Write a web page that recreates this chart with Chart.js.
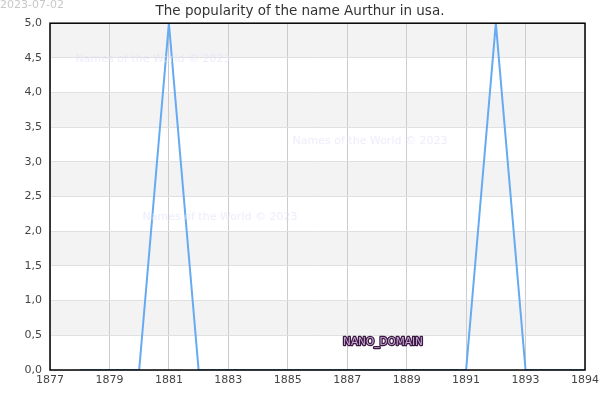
<!DOCTYPE html>
<html>
<head>
<meta charset="utf-8">
<script src="https://cdn.jsdelivr.net/npm/chart.js@4"></script>
<style>
  html, body { margin: 0; padding: 0; background: #fff; }
  #wrap { width: 600px; height: 400px; position: relative; }
</style>
</head>
<body>
<div id="wrap"><canvas id="nameChart"></canvas></div>
<script>
// Popularitas nama per tahun (nilai dibaca dari grafik referensi).
const YEARS  = [1878, 1879, 1880, 1881, 1882, 1883, 1884, 1885, 1886, 1887,
                1888, 1889, 1890, 1891, 1892, 1893, 1894, 1895];
const VALUES = [0, 0, 0, 5, 0, 0, 0, 0, 0, 0,
                0, 0, 0, 0, 5, 0, 0, 0];
const X_TICKS       = [1877, 1879, 1881, 1883, 1885, 1887, 1889, 1891, 1893, 1895];
const X_TICK_LABELS = ['1877', '1879', '1881', '1883', '1885', '1887', '1889', '1891', '1893', '1894'];
const TITLE_TEXT = 'The popularity of the name Aurthur in usa.';
const DATE_TEXT  = '2023-07-02';
const WATERMARK  = 'Names of the World \u00a9 2023';

Chart.defaults.font.family = "'DejaVu Sans', sans-serif";

// pita abu-abu selang-seling (di bawah grid) + kotak hitam + watermark
const decorPlugin = {
    id: 'decor',
    beforeDraw(chart) {
        const { ctx, chartArea: a, scales: { y } } = chart;
        ctx.save();
        ctx.fillStyle = '#f3f3f3';
        const ticks = y.ticks.map(t => t.value);
        // band abu-abu di 0,5-1,0 ; 1,5-2,0 ; ... ; 4,5-5,0
        for (let i = 2; i < ticks.length; i += 2) {
            const top = y.getPixelForValue(ticks[i]);
            const bot = y.getPixelForValue(ticks[i - 1]);
            ctx.fillRect(a.left, top, a.right - a.left, bot - top);
        }
        ctx.restore();
    },
    afterDatasetsDraw(chart) {
        const { ctx, chartArea: a } = chart;
        ctx.save();
        ctx.strokeStyle = '#000';
        ctx.lineWidth = 1.5;
        ctx.strokeRect(a.left, a.top, a.right - a.left, a.bottom - a.top);

        ctx.font = '11px "DejaVu Sans"';
        ctx.textAlign = 'center';
        ctx.textBaseline = 'middle';
        ctx.fillStyle = 'rgba(225, 225, 250, 0.6)';
        ctx.fillText(WATERMARK, 153, 59);
        ctx.fillText(WATERMARK, 370, 141);
        ctx.fillText(WATERMARK, 220, 217);

        ctx.font = '10.5px "DejaVu Sans"';
        ctx.lineWidth = 2.5;
        ctx.lineJoin = 'round';
        ctx.strokeStyle = '#3a1a40';
        ctx.strokeText('NANO_DOMAIN', 383, 342);
        ctx.fillStyle = '#c9a6d6';
        ctx.fillText('NANO_DOMAIN', 383, 342);

        ctx.font = '11px "DejaVu Sans"';
        ctx.textAlign = 'left';
        ctx.textBaseline = 'top';
        ctx.fillStyle = '#c8c8c8';
        ctx.fillText(DATE_TEXT, 0, 0);
        ctx.restore();
    }
};

new Chart(document.getElementById('nameChart'), {
    type: 'line',
    data: {
        datasets: [{
            data: YEARS.map((yr, i) => ({ x: yr, y: VALUES[i] })),
            borderColor: '#66aaf2',
            borderWidth: 2,
            pointRadius: 0,
            tension: 0,
            fill: false
        }]
    },
    options: {
        responsive: true,
        maintainAspectRatio: false,
        animation: false,
        layout: { padding: { left: 0, right: 0, top: 0, bottom: 0 } },
        plugins: {
            legend: { display: false },
            tooltip: { enabled: false },
            title: {
                display: true,
                text: TITLE_TEXT,
                color: '#333',
                font: { size: 13.5, weight: 'normal' },
                padding: { top: 3, bottom: 4 }
            }
        },
        scales: {
            x: {
                type: 'linear',
                min: 1877,
                max: 1895,
                afterBuildTicks: s => { s.ticks = X_TICKS.map(v => ({ value: v })); },
                afterFit: s => { s.height = 30; s.paddingRight = 15; },
                ticks: {
                    color: '#444',
                    font: { size: 11 },
                    maxRotation: 0,
                    autoSkip: false,
                    padding: 4,
                    callback: (v, i) => X_TICK_LABELS[i]
                },
                grid: { color: '#cccccc', drawTicks: false },
                border: { display: false }
            },
            y: {
                min: 0,
                max: 5,
                afterFit: s => { s.width = 50; },
                ticks: {
                    stepSize: 0.5,
                    color: '#444',
                    font: { size: 11 },
                    padding: 8,
                    callback: v => v.toFixed(1).replace('.', ',')
                },
                grid: { color: '#e0e0e0', drawTicks: false },
                border: { display: false }
            }
        }
    },
    plugins: [decorPlugin]
});
</script>
</body>
</html>
